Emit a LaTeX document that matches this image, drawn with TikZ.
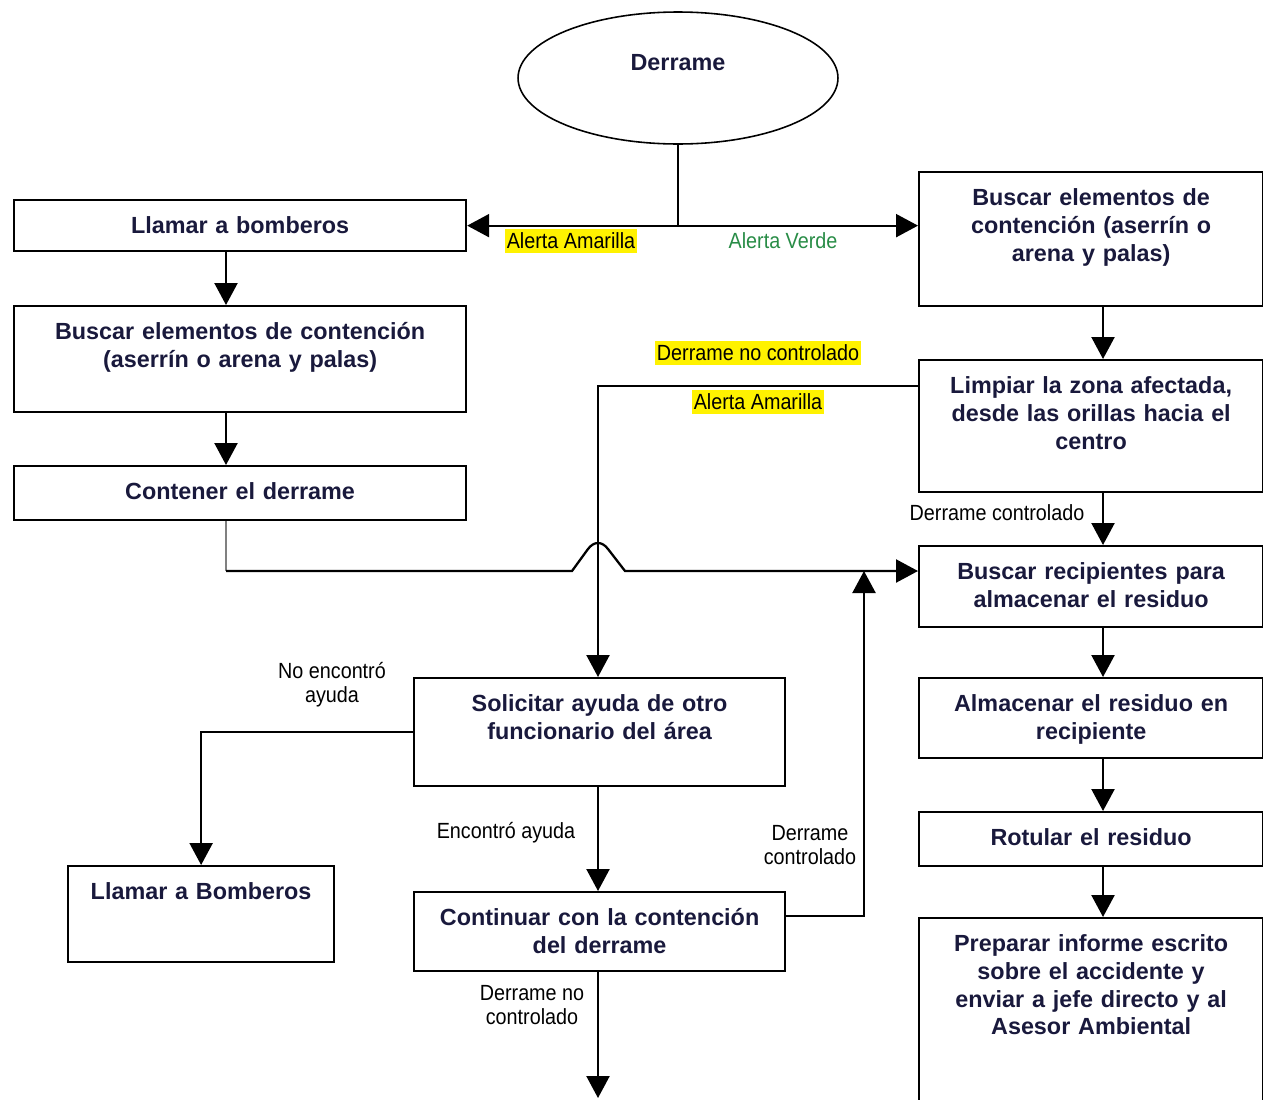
\documentclass[tikz,border=0pt]{standalone}
\usepackage{fontspec}
\setmainfont{Liberation Sans}
\newfontfamily\lblfont[FakeStretch=0.9]{Liberation Sans}
\usetikzlibrary{arrows.meta,shapes.geometric}
\definecolor{navy}{RGB}{25,25,60}
\definecolor{verde}{RGB}{40,140,70}
\tikzset{
  caja/.style={draw, line width=1.3pt, anchor=north west, inner sep=0pt, align=center,
    text height=0.66cm, text=navy, font=\fontsize{13.3}{15.9}\selectfont\bfseries},
  flecha/.style={line width=1.3pt, -{Triangle[length=0.44cm,width=0.46cm]}},
  linea/.style={line width=1.3pt},
  etiq/.style={font=\lblfont\fontsize{12.5}{13.6}\selectfont, align=center, inner sep=1pt},
  amarillo/.style={etiq, fill=yellow, inner xsep=1pt, inner ysep=2pt}
}

\begin{document}
\begin{tikzpicture}[x=0.02cm,y=-0.02cm]
\useasboundingbox (0,0) rectangle (1263,1099);
\clip (0,0) rectangle (1263,1099);
\node[ellipse, draw, line width=0.9pt, minimum width=6.4cm, minimum height=2.64cm, inner sep=0pt] (derrame) at (678,78) {};
\node[text=navy, font=\fontsize{13.3}{15.9}\selectfont\bfseries] (derrameT) at (678,63) {Derrame};
% left column
\node[caja, text width=9.04cm, text depth=0.36cm] (llamar) at (13,199) {Llamar a bomberos};
\node[caja, text width=9.04cm, text depth=1.46cm] (buscarI) at (13,305) {Buscar elementos de contención\\(aserrín o arena y palas)};
\node[caja, text width=9.04cm, text depth=0.42cm] (contener) at (13,465) {Contener el derrame};
% right column
\node[caja, text width=6.88cm, text depth=2.02cm] (buscarD) at (918,171) {Buscar elementos de\\contención (aserrín o\\arena y palas)};
\node[caja, text width=6.88cm, text depth=1.98cm] (limpiar) at (918,359) {Limpiar la zona afectada,\\desde las orillas hacia el\\centro};
\node[caja, text width=6.88cm, text depth=0.96cm] (recipientes) at (918,545) {Buscar recipientes para\\almacenar el residuo};
\node[caja, text width=6.88cm, text depth=0.94cm] (almacenar) at (918,677) {Almacenar el residuo en\\recipiente};
\node[caja, text width=6.88cm, text depth=0.42cm] (rotular) at (918,811) {Rotular el residuo};
\node[caja, text width=6.88cm, text depth=3.6cm] (informe) at (918,917) {Preparar informe escrito\\sobre el accidente y\\enviar a jefe directo y al\\Asesor Ambiental};
% middle
\node[caja, text width=7.42cm, text depth=1.5cm] (solicitar) at (413,677) {Solicitar ayuda de otro\\funcionario del área};
\node[caja, text width=7.42cm, text depth=0.92cm] (continuar) at (413,891) {Continuar con la contención\\del derrame};
\node[caja, text width=5.32cm, text depth=1.26cm] (bomberos) at (67,865) {Llamar a Bomberos};

\coordinate (xl) at (226,0);
\coordinate (xr) at (1103,0);
\coordinate (codo) at (226,571);
\coordinate (xm) at (598,386);
\coordinate (subida) at (864,916);
\coordinate (fin) at (598,1098);

\draw[linea] (derrame.south) -- (derrame.south |- llamar.east);
\draw[flecha] (derrame.south |- llamar.east) -- (llamar.east);
\draw[flecha] (derrame.south |- llamar.east) -- (buscarD.west |- llamar.east);
\node[amarillo] (aa1) at (571,241) {Alerta Amarilla};
\node[etiq, text=verde] (av) at (783,241) {Alerta Verde};

\draw[flecha] (llamar.south -| xl) -- (buscarI.north -| xl);
\draw[flecha] (buscarI.south -| xl) -- (contener.north -| xl);
\draw[linea, gray] (contener.south -| codo) -- (codo);
\draw[flecha] (codo) -- (572,571) -- (588,549) .. controls (594,541) and (602,541) .. (608,549) -- (625,571) -- (recipientes.west |- codo);

\draw[flecha] (buscarD.south -| xr) -- (limpiar.north -| xr);
\draw[flecha] (limpiar.south -| xr) -- (recipientes.north -| xr);
\node[etiq] (dc1) at (997,513) {Derrame controlado};
\draw[flecha] (recipientes.south -| xr) -- (almacenar.north -| xr);
\draw[flecha] (almacenar.south -| xr) -- (rotular.north -| xr);
\draw[flecha] (rotular.south -| xr) -- (informe.north -| xr);

\draw[flecha] (limpiar.west |- xm) -- (xm) -- (solicitar.north -| xm);
\node[amarillo] (dnc1) at (758,353) {Derrame no controlado};
\node[amarillo] (aa2) at (758,402) {Alerta Amarilla};

\draw[flecha] (solicitar.west) -- (bomberos.north |- solicitar.west) -- (bomberos.north);
\node[etiq] (noenc) at (332,685) {No encontró\\ayuda};
\draw[flecha] (solicitar.south -| xm) -- (continuar.north -| xm);
\node[etiq] (enc) at (506,833) {Encontró ayuda};
\draw[flecha] (continuar.east |- subida) -- (subida) -- (subida |- codo);
\node[etiq] (dc2) at (810,845) {Derrame\\controlado};
\draw[flecha] (continuar.south -| fin) -- (fin);
\node[etiq] (dnc2) at (532,1005) {Derrame no\\controlado};
%\draw[dashed] (contener.south) -- (codo);
\end{tikzpicture}
\end{document}
